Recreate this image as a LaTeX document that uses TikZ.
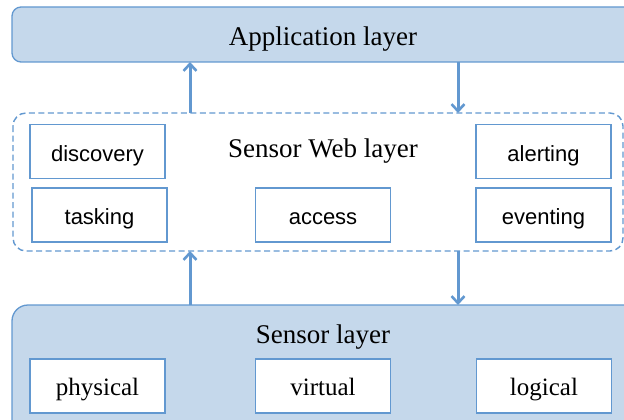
\documentclass[tikz,border=0pt]{standalone}
\usepackage{fontspec}
\setmainfont{Liberation Serif}
\newfontfamily\labelsans{Liberation Sans}
\usetikzlibrary{arrows.meta}
\definecolor{layerfill}{RGB}{197,216,235}
\definecolor{layerline}{RGB}{98,152,208}
\tikzset{
  layerbox/.style={draw=layerline, fill=layerfill, line width=1.3pt},
  webbox/.style={draw=layerline, line width=1.4pt, dash pattern=on 6pt off 3.5pt, rounded corners=13pt},
  sbox/.style={draw=layerline, fill=white, line width=1.3pt, minimum width=135pt, minimum height=54pt, inner sep=0pt,
    text height=19pt, text depth=0pt, font=\labelsans\fontsize{22}{24}\selectfont},
  tbox/.style={sbox, font=\fontsize{25}{28}\selectfont},
  title/.style={font=\fontsize{27}{30}\selectfont, inner sep=0pt, text height=18pt, text depth=0pt},
  arr/.style={draw=layerline, line width=3pt, -{Straight Barb[length=7pt,width=13pt,line width=2.6pt]}}
}
\begin{document}
\begin{tikzpicture}[x=1pt,y=-1pt]
\useasboundingbox (0,0) rectangle (624,420);
\clip (0,0) rectangle (624,420);
% layers
\draw[layerbox, rounded corners=9pt] (12,7) rectangle (660,62);
\node[title] (app) at (323,37) {Application layer};
\coordinate (appS) at (330,62);
\draw[webbox] (13,113) rectangle (623,251);
\coordinate (webN) at (330,113);
\coordinate (webS) at (330,251);
\node[title] (web) at (323,148) {Sensor Web layer};
\draw[layerbox, rounded corners=16pt] (12,305) rectangle (660,460);
\coordinate (senN) at (330,305);
\node[title] (sen) at (323,334) {Sensor layer};
% web services
\node[sbox] (disc) at (97.5,151.5) {discovery};
\node[sbox] (task) at (99.5,215) {tasking};
\node[sbox] (acc) at (323,215) {access};
\node[sbox] (alert) at (543.5,151.5) {alerting};
\node[sbox] (event) at (543.5,215) {eventing};
% sensors
\node[tbox] (phys) at (97.5,386) {physical};
\node[tbox] (virt) at (323,386) {virtual};
\node[tbox] (logi) at (544,386) {logical};
% arrows
\coordinate (xa) at (190,0);
\coordinate (xb) at (458,0);
\draw[arr] (webN -| xa) -- (appS -| xa);
\draw[arr] (appS -| xb) -- (webN -| xb);
\draw[arr] (senN -| xa) -- (webS -| xa);
\draw[arr] (webS -| xb) -- (senN -| xb);
\end{tikzpicture}
\end{document}
